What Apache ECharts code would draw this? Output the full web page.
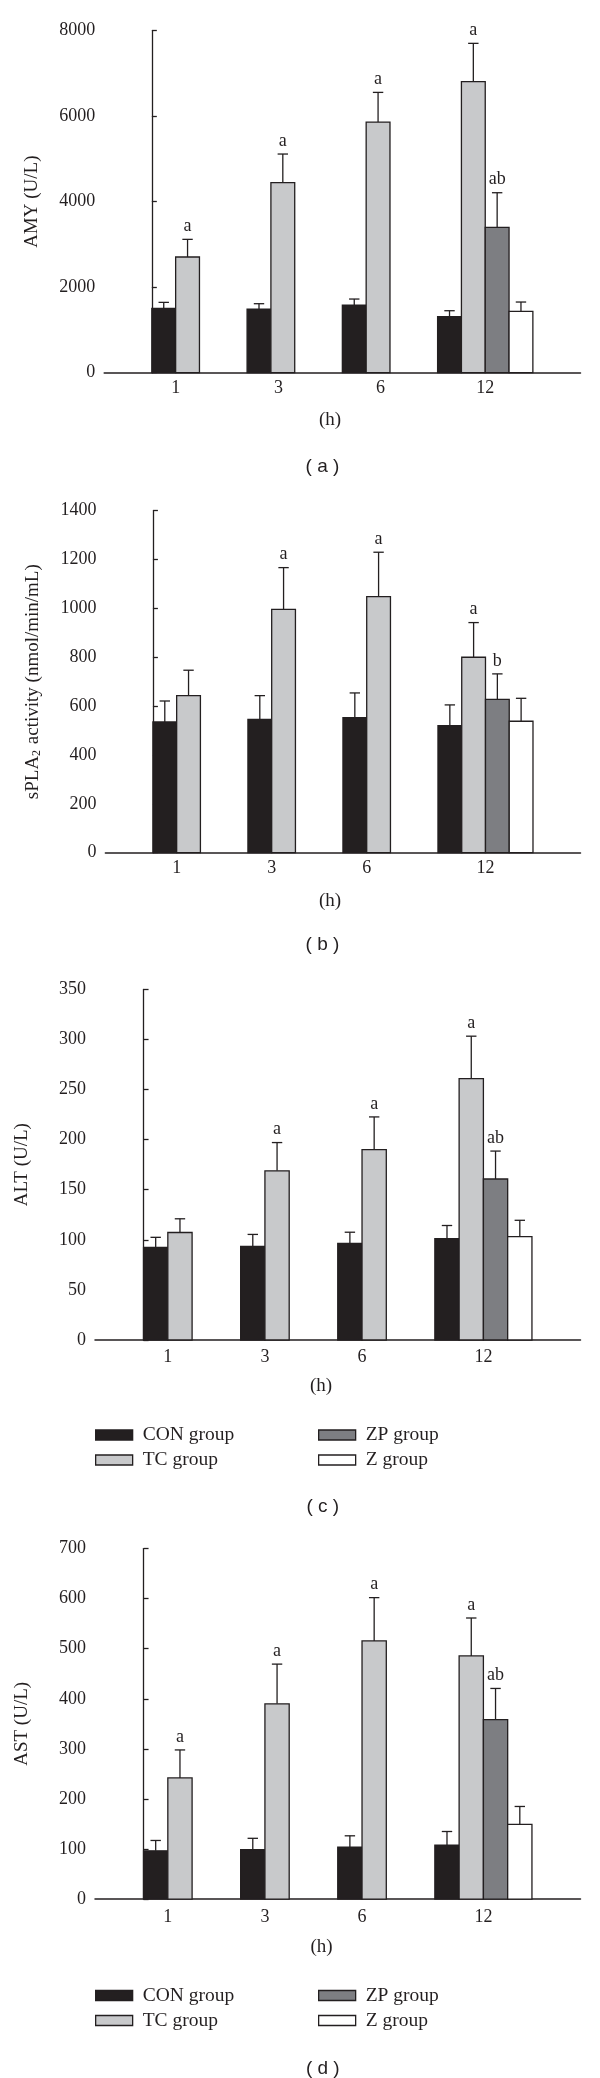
<!DOCTYPE html>
<html>
<head>
<meta charset="utf-8">
<script src="https://cdn.jsdelivr.net/npm/echarts@6/dist/echarts.min.js"></script>
<style>
html,body{margin:0;padding:0;background:#fff;}
#chart{width:600px;height:2078px;}
</style>
</head>
<body>
<div id="chart"></div>
<script>
// ---------- data ----------
const categories = ['1', '3', '6', '12'];
const groupNames = ['CON group', 'TC group', 'ZP group', 'Z group'];

// (a) AMY (U/L)
const amyCON = [1505, 1489, 1583, 1310];
const amyCONsd = [140, 125, 140, 140];
const amyTC = [2706, 4444, 5863, 6807];
const amyTCsd = [413, 671, 694, 897];
const amyZP = [null, null, null, 3400];
const amyZPsd = [null, null, null, 810];
const amyZ = [null, null, null, 1435];
const amyZsd = [null, null, null, 218];
const amyTCsig = ['a', 'a', 'a', 'a'];
const amyZPsig = ['', '', '', 'ab'];
const amyTicks = [0, 2000, 4000, 6000, 8000];

// (b) sPLA2 activity (nmol/min/mL)
const splaCON = [535, 546, 553, 520];
const splaCONsd = [86, 97, 101, 85];
const splaTC = [643, 996, 1048, 800];
const splaTCsd = [104, 171, 182, 142];
const splaZP = [null, null, null, 628];
const splaZPsd = [null, null, null, 104];
const splaZ = [null, null, null, 538];
const splaZsd = [null, null, null, 94];
const splaTCsig = ['', 'a', 'a', 'a'];
const splaZPsig = ['', '', '', 'b'];
const splaTicks = [0, 200, 400, 600, 800, 1000, 1200, 1400];

// (c) ALT (U/L)
const altCON = [92.4, 93.5, 96.5, 101.3];
const altCONsd = [10.1, 11.9, 11.1, 13];
const altTC = [107.3, 168.9, 190.1, 261];
const altTCsd = [13.7, 28.2, 32.6, 42.3];
const altZP = [null, null, null, 160.7];
const altZPsd = [null, null, null, 27.9];
const altZ = [null, null, null, 103.2];
const altZsd = [null, null, null, 16.3];
const altTCsig = ['', 'a', 'a', 'a'];
const altZPsig = ['', '', '', 'ab'];
const altTicks = [0, 50, 100, 150, 200, 250, 300, 350];

// (d) AST (U/L)
const astCON = [96.4, 98.6, 103.6, 107.9];
const astCONsd = [20.7, 22.8, 22.8, 27.1];
const astTC = [242.1, 390, 515.7, 485.7];
const astTCsd = [55.8, 79.3, 86.4, 75.7];
const astZP = [null, null, null, 358.6];
const astZPsd = [null, null, null, 62.1];
const astZ = [null, null, null, 149.3];
const astZsd = [null, null, null, 35.7];
const astTCsig = ['a', 'a', 'a', 'a'];
const astZPsig = ['', '', '', 'ab'];
const astTicks = [0, 100, 200, 300, 400, 500, 600, 700];

// ---------- layout / style ----------
const INK = '#231f20';
const SERIF = 'Liberation Serif';
const SANS = 'Liberation Sans';
const colors = ['#231f20', '#c8c9cb', '#7d7e82', '#ffffff'];

const panels = [
  { grid: { left: 104.2, right: 19.5, top: 30.7, height: 342 }, ticks: amyTicks,
    name: 'AMY (U/L)', labelPos: [0.25, 1.33, 2.40, 3.5], labelMargin: 7,
    h: [330, 420], cap: '( a )', capPos: [322.5, 467],
    series: [[amyCON, amyCONsd, null], [amyTC, amyTCsd, amyTCsig], [amyZP, amyZPsd, amyZPsig], [amyZ, amyZsd, null]] },
  { grid: { left: 105.4, right: 19.5, top: 510.7, height: 342 }, ticks: splaTicks,
    name: 'sPLA{sub|2} activity (nmol/min/mL)', labelPos: [0.25, 1.25, 2.25, 3.5], labelMargin: 7,
    h: [330, 901], cap: '( b )', capPos: [322.5, 945],
    series: [[splaCON, splaCONsd, null], [splaTC, splaTCsd, splaTCsig], [splaZP, splaZPsd, splaZPsig], [splaZ, splaZsd, null]] },
  { grid: { left: 95, right: 19.5, top: 989.4, height: 350.6 }, ticks: altTicks,
    name: 'ALT (U/L)', labelPos: [0.25, 1.25, 2.25, 3.5], labelMargin: 8,
    h: [321, 1386], cap: '( c )', capPos: [322.8, 1507], legendTop: 1425,
    series: [[altCON, altCONsd, null], [altTC, altTCsd, altTCsig], [altZP, altZPsd, altZPsig], [altZ, altZsd, null]] },
  { grid: { left: 95, right: 19.5, top: 1548.6, height: 350.5 }, ticks: astTicks,
    name: 'AST (U/L)', labelPos: [0.25, 1.25, 2.25, 3.5], labelMargin: 9,
    h: [321.6, 1947.4], cap: '( d )', capPos: [322.8, 2069], legendTop: 1985.5,
    series: [[astCON, astCONsd, null], [astTC, astTCsd, astTCsig], [astZP, astZPsd, astZPsig], [astZ, astZsd, null]] }
];

const option = {
  animation: false,
  backgroundColor: '#fff',
  grid: [], xAxis: [], yAxis: [], series: [], legend: [], graphic: []
};

panels.forEach((p, gi) => {
  option.grid.push(Object.assign({ containLabel: false }, p.grid));
  const lp = p.labelPos;
  option.xAxis.push({
    type: 'value', gridIndex: gi, min: -0.5, max: 4.5,
    axisLine: { show: true, lineStyle: { color: INK, width: 1.5 } },
    axisTick: { show: false }, splitLine: { show: false },
    axisLabel: {
      show: true, customValues: lp, margin: p.labelMargin,
      formatter: (v) => { let idx = lp.findIndex(q => Math.abs(q - v) < 1e-6); return idx >= 0 ? categories[idx] : ''; },
      fontFamily: SERIF, fontSize: 18, color: INK
    }
  });
  const t = p.ticks;
  option.yAxis.push({
    type: 'value', gridIndex: gi, min: t[0], max: t[t.length - 1], interval: t[1] - t[0],
    axisLine: { show: true, lineStyle: { color: INK, width: 1.3 } },
    axisTick: { show: true, inside: true, length: 5, lineStyle: { color: INK, width: 1.3 } },
    splitLine: { show: false },
    axisLabel: { fontFamily: SERIF, fontSize: 18, color: INK, margin: 9, formatter: (v) => String(v) },
    name: p.name, nameLocation: 'middle', nameGap: 63,
    nameTextStyle: { fontFamily: SERIF, fontSize: 19, color: INK,
      rich: { sub: { fontFamily: SERIF, fontSize: 12, color: INK, verticalAlign: 'bottom', lineHeight: 12, padding: [0, 1, 0, 0] } } }
  });
  p.series.forEach((s, slot) => {
    const [vals, sds, sigs] = s;
    const items = [], sigList = [];
    vals.forEach((v, i) => { if (v != null) { items.push([i, v, sds[i]]); sigList.push(sigs ? sigs[i] : ''); } });
    const color = colors[slot];
    option.series.push({
      type: 'custom', name: groupNames[slot], xAxisIndex: gi, yAxisIndex: gi,
      itemStyle: { color: color, borderColor: INK, borderWidth: 1.3 },
      data: items,
      renderItem: (params, api) => {
        const k = api.value(0), v = api.value(1), sd = api.value(2);
        const x0 = k + slot * 0.25, x1 = x0 + 0.25, xc = x0 + 0.125;
        const tl = api.coord([x0, v]), br = api.coord([x1, 0]);
        const top = api.coord([xc, v + sd]), mid = api.coord([xc, v]);
        const children = [
          { type: 'line', shape: { x1: mid[0], y1: mid[1], x2: top[0], y2: top[1] }, style: { stroke: INK, lineWidth: 1.3 } },
          { type: 'line', shape: { x1: top[0] - 5.2, y1: top[1], x2: top[0] + 5.2, y2: top[1] }, style: { stroke: INK, lineWidth: 1.3 } },
          { type: 'rect', shape: { x: tl[0], y: tl[1], width: br[0] - tl[0], height: br[1] - tl[1] },
            style: { fill: color, stroke: INK, lineWidth: 1.3 } }
        ];
        const sig = sigList[params.dataIndex];
        if (sig) {
          children.push({ type: 'text', x: top[0], y: top[1] - 4,
            style: { text: sig, textAlign: 'center', textVerticalAlign: 'bottom', fontFamily: SERIF, fontSize: 18, fill: INK } });
        }
        return { type: 'group', children: children };
      }
    });
  });
  // "(h)" axis unit label and panel caption
  option.graphic.push({ type: 'text', x: p.h[0], y: p.h[1],
    style: { text: '(h)', textAlign: 'center', textVerticalAlign: 'middle', fontFamily: SERIF, fontSize: 19, fill: INK } });
  option.graphic.push({ type: 'text', x: p.capPos[0], y: p.capPos[1],
    style: { text: p.cap, textAlign: 'center', textVerticalAlign: 'middle', fontFamily: SANS, fontSize: 19, fill: INK } });
  if (p.legendTop != null) {
    const mk = (i) => ({ name: groupNames[i], icon: 'rect', itemStyle: { color: colors[i], borderColor: INK, borderWidth: 1.3 } });
    const common = { orient: 'vertical', top: p.legendTop, padding: 0, itemWidth: 37, itemHeight: 10, itemGap: 5,
      selectedMode: false, textStyle: { fontFamily: SERIF, fontSize: 19.5, color: INK, lineHeight: 20, padding: [0, 0, 0, 5] } };
    option.legend.push(Object.assign({ left: 95, data: [mk(0), mk(1)] }, common));
    option.legend.push(Object.assign({ left: 318, data: [mk(2), mk(3)] }, common));
  }
});

const chart = echarts.init(document.getElementById('chart'), null, { renderer: 'canvas', width: 600, height: 2078 });
chart.setOption(option);
</script>
</body>
</html>
